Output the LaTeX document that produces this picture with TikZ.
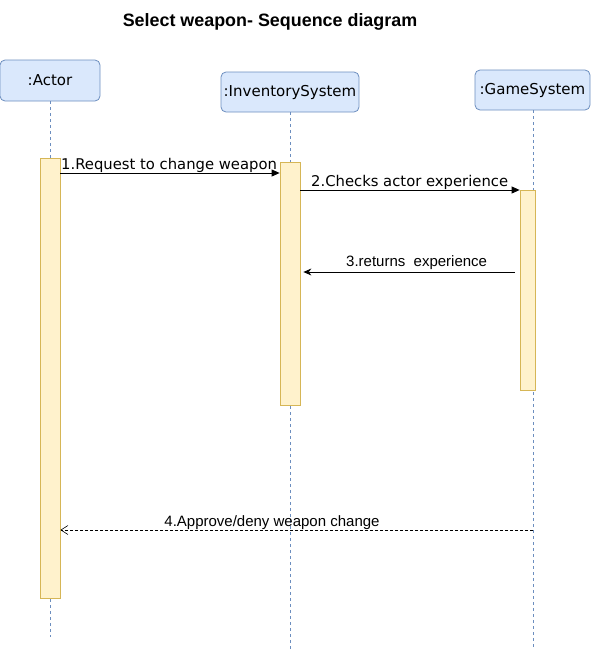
\documentclass[tikz,border=0pt]{standalone}
\usepackage{fontspec}
\setmainfont{Liberation Sans}
\newfontfamily\verdana{DejaVu Sans}
\usetikzlibrary{arrows.meta}
\definecolor{boxfill}{HTML}{DAE8FC}
\definecolor{boxline}{HTML}{6C8EBF}
\definecolor{barfill}{HTML}{FFF2CC}
\definecolor{barline}{HTML}{D6B656}

\begin{document}
\begin{tikzpicture}[x=1pt, y=-1pt, every node/.style={inner sep=0pt},
	object/.style={draw=boxline, fill=boxfill, rounded corners=5pt, line width=0.8pt, font={\verdana\fontsize{15}{18}\selectfont}},
	activation/.style={draw=barline, fill=barfill, line width=0.8pt, minimum width=20pt},
	lifeline/.style={boxline, line width=0.8pt, dash pattern=on 3pt off 3pt},
	call/.style={-{Triangle[length=8pt, width=7pt]}, line width=0.8pt},
	answer/.style={-{Stealth[length=8pt, width=7pt]}, line width=0.8pt},
	reply/.style={-{Straight Barb[length=7pt, width=9pt]}, line width=0.6pt, dash pattern=on 3pt off 2pt},
	msgv/.style={font={\verdana\fontsize{14.8}{17}\selectfont}},
	msga/.style={font={\fontsize{15}{18}\selectfont}}]
	\useasboundingbox (0,0) rectangle (591,651);
	\node[font={\bfseries\fontsize{17.9}{21}\selectfont}, anchor=base] (title) at (270,26) {Select weapon- Sequence diagram};
	% objects
	\node[object, minimum width=100pt, minimum height=41pt] (actor) at (50,80.5) {:Actor};
	\node[object, minimum width=138pt, minimum height=40pt] (inventory) at (290,92) {:InventorySystem};
	\node[object, minimum width=115pt, minimum height=40pt] (game) at (532.5,90) {:GameSystem};
	% lifelines
	\coordinate (actorend) at (50,637);
	\coordinate (inventoryend) at (290,651);
	\coordinate (gameend) at (533,648);
	\draw[lifeline] (actor.south) -- (actorend);
	\draw[lifeline] (inventory.south) -- (inventoryend);
	\draw[lifeline] (game.south -| gameend) -- (gameend);
	% activation bars
	\node[activation, minimum height=440pt] (actorbar) at (50,378) {};
	\node[activation, minimum height=243pt] (inventorybar) at (290,283.5) {};
	\node[activation, minimum width=15pt, minimum height=200pt] (gamebar) at (527.5,290) {};
	% messages
	\draw[call] (actorbar.east |- 0,173) -- (inventorybar.west |- 0,173);
	\node[msgv, anchor=base west] (m1) at (61,169) {1.Request to change weapon};
	\draw[call] (inventorybar.east |- 0,190) -- (gamebar.west |- 0,190);
	\node[msgv, anchor=base west] (m2) at (311,186) {2.Checks actor experience};
	\draw[answer, shorten <=5pt, shorten >=3pt] (gamebar.west |- 0,272) -- (inventorybar.east |- 0,272);
	\node[msga, anchor=base west] (m3) at (346,266) {3.returns\ \ experience};
	\draw[reply] (gameend |- 0,530) -- (actorbar.east |- 0,530);
	\node[msga, anchor=base] (m4) at (272,526) {4.Approve/deny weapon change};
\end{tikzpicture}
\end{document}
